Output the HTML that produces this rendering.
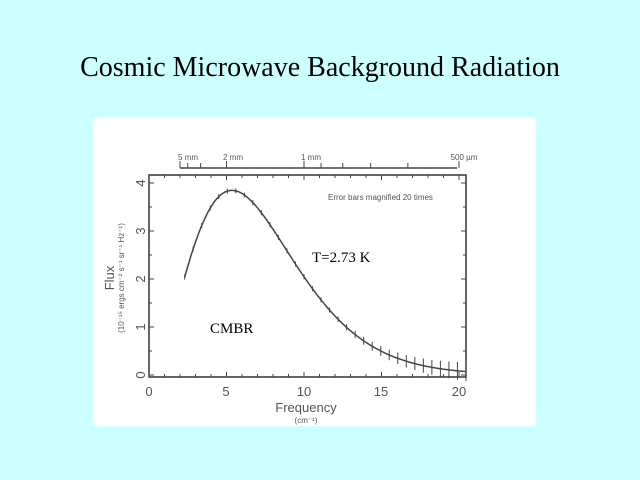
<!DOCTYPE html>
<html><head><style>
html,body{margin:0;padding:0;}
body{width:640px;height:480px;background:#ccffff;position:relative;overflow:hidden;font-family:"Liberation Sans",sans-serif;}
#t{position:absolute;top:52px;left:0;width:640px;text-align:center;font-family:"Liberation Serif",serif;font-size:28px;color:#000;}
svg{position:absolute;left:0;top:0;}
</style></head><body>
<div id="t">Cosmic Microwave Background Radiation</div>
<svg width="640" height="480" id="s">
<rect x="93" y="118" width="443" height="308" fill="#fff"/>
<rect x="149" y="175" width="317" height="202" fill="none" stroke="#333" stroke-width="1.5"/>
<g id="g" stroke="#444" fill="none"></g>
<g font-size="13" fill="#555" text-anchor="middle">
<text x="149" y="396">0</text><text x="226" y="396">5</text><text x="304" y="396">10</text><text x="381" y="396">15</text><text x="459" y="396">20</text>
</g>
<g font-size="13" fill="#555" text-anchor="middle">
<text transform="translate(145,375) rotate(-90)">0</text>
<text transform="translate(145,327) rotate(-90)">1</text>
<text transform="translate(145,279) rotate(-90)">2</text>
<text transform="translate(145,231) rotate(-90)">3</text>
<text transform="translate(145,183) rotate(-90)">4</text>
</g>
<text x="306" y="412" font-size="13" fill="#555" text-anchor="middle">Frequency</text>
<text x="306" y="423" font-size="8" fill="#555" text-anchor="middle">(cm⁻¹)</text>
<text transform="translate(114,278) rotate(-90)" font-size="13" fill="#555" text-anchor="middle">Flux</text>
<text transform="translate(124,278) rotate(-90)" font-size="8" fill="#555" text-anchor="middle">(10⁻¹⁵ ergs cm⁻² s⁻¹ sr⁻¹ Hz⁻¹)</text>
<g font-size="8" fill="#555" text-anchor="middle">
<text x="188" y="160">5 mm</text><text x="233" y="160">2 mm</text><text x="311" y="160">1 mm</text><text x="464" y="160">500 µm</text>
</g>
<text x="328" y="200" font-size="8" fill="#555">Error bars magnified 20 times</text>
<text x="312" y="262" font-family="Liberation Serif,serif" font-size="15" fill="#000">T=2.73 K</text>
<text x="210" y="333" font-family="Liberation Serif,serif" font-size="15" fill="#000">CMBR</text>
</svg>
<script>
var g=document.getElementById('g'),h='';
function X(v){return 149+v*15.5;}function Y(f){return 375-f*48;}
function F(v){return 0.396*v*v*v/(Math.exp(0.527*v)-1);}
var d='';for(var v=2.3;v<=20.5;v+=0.1){d+=(d?'L':'M')+X(v).toFixed(1)+','+Y(F(v)).toFixed(1);}
h+='<path d="'+d+'" stroke-width="1.5"/>';
for(var v=2.3;v<=20.5;v+=0.55){var e=2.5+Math.max(0,v-12)*0.8;var x=X(v),y=Y(F(v));h+='<line x1="'+x+'" x2="'+x+'" y1="'+(y-e)+'" y2="'+(y+e)+'" stroke-width="1"/>';}
for(var i=0;i<=20;i++){var x=X(i),l=i%5==0?5:3;h+='<line x1="'+x+'" x2="'+x+'" y1="377" y2="'+(377-l)+'"/><line x1="'+x+'" x2="'+x+'" y1="175" y2="'+(175+l)+'"/>';}
for(var i=0;i<=8;i++){var y=375-i*24,l=i%2==0?5:3;h+='<line x1="149" x2="'+(149+l)+'" y1="'+y+'" y2="'+y+'"/><line x1="466" x2="'+(466-l)+'" y1="'+y+'" y2="'+y+'"/>';}
h+='<line x1="180" x2="457" y1="168" y2="168" stroke-width="1.5"/>';
[2,2.5,3.33,5,10,11.1,12.5,14.3,16.7,20].forEach(function(v){var x=X(v),l=(v==2||v==5||v==10||v==20)?7:5;h+='<line x1="'+x+'" x2="'+x+'" y1="168" y2="'+(168-l)+'"/>';});
g.innerHTML=h;
</script>
</body></html>
